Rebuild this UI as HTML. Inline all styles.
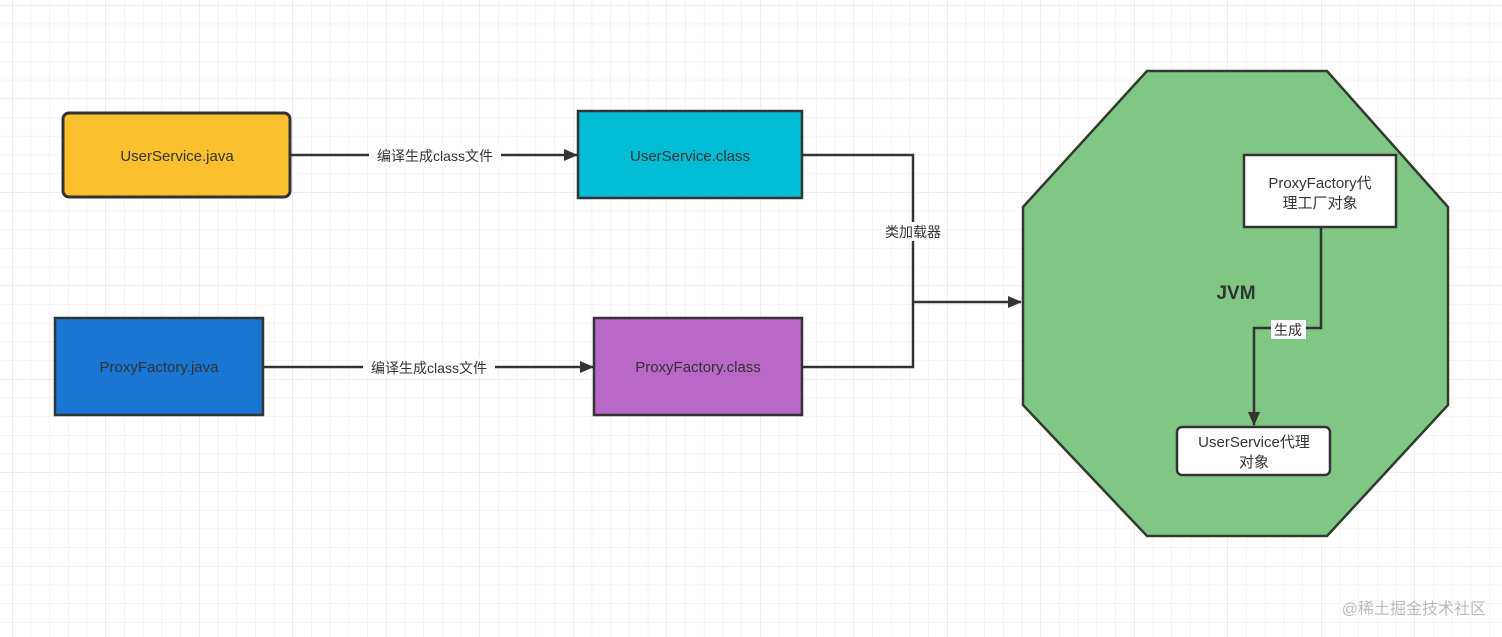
<!DOCTYPE html>
<html><head><meta charset="utf-8"><style>
html,body{margin:0;padding:0;background:#fff;}
svg{display:block;}
text{font-family:"Liberation Sans","Noto Sans CJK SC",sans-serif;}
</style></head><body>
<svg width="1502" height="637" viewBox="0 0 1502 637" xmlns="http://www.w3.org/2000/svg">
<defs>
<pattern id="g" x="12" y="5" width="18.7" height="18.7" patternUnits="userSpaceOnUse">
<path d="M0 0H18.7M0 0V18.7" stroke="#e8e8e8" stroke-width="1" fill="none"/>
</pattern>
<pattern id="G" x="12" y="5" width="93.5" height="93.5" patternUnits="userSpaceOnUse">
<path d="M0 0H93.5M0 0V93.5" stroke="#dcdcdc" stroke-width="1" fill="none"/>
</pattern>
<marker id="a" markerWidth="14" markerHeight="12" refX="13" refY="6" orient="auto" markerUnits="userSpaceOnUse">
<path d="M0 0L14 6L0 12Z" fill="#333"/>
</marker>
</defs>
<rect width="1502" height="637" fill="url(#g)"/>
<rect width="1502" height="637" fill="url(#G)"/>

<g stroke="#333" stroke-width="2.5" fill="none">
<line x1="291" y1="155" x2="577" y2="155" marker-end="url(#a)"/>
<line x1="264" y1="367" x2="593" y2="367" marker-end="url(#a)"/>
<polyline points="803,155 913,155 913,302"/>
<polyline points="803,367 913,367 913,302"/>
<line x1="913" y1="302" x2="1021" y2="302" marker-end="url(#a)"/>
</g>

<rect x="63" y="113" width="227" height="84" rx="6" fill="#fbc02d" stroke="#333" stroke-width="3"/>
<text x="177" y="161" font-size="15" text-anchor="middle" fill="#333">UserService.java</text>
<rect x="578" y="111" width="224" height="87" fill="#00bcd4" stroke="#333" stroke-width="2.5"/>
<text x="690" y="161" font-size="15" text-anchor="middle" fill="#333">UserService.class</text>
<rect x="55" y="318" width="208" height="97" fill="#1976d2" stroke="#333" stroke-width="2.5"/>
<text x="159" y="372" font-size="15" text-anchor="middle" fill="#333">ProxyFactory.java</text>
<rect x="594" y="318" width="208" height="97" fill="#ba68c8" stroke="#333" stroke-width="2.5"/>
<text x="698" y="372" font-size="15" text-anchor="middle" fill="#333">ProxyFactory.class</text>

<rect x="369" y="146" width="132" height="19" fill="#fff"/>
<text x="435" y="161" font-size="14" text-anchor="middle" fill="#333">编译生成class文件</text>
<rect x="363" y="358" width="132" height="19" fill="#fff"/>
<text x="429" y="373" font-size="14" text-anchor="middle" fill="#333">编译生成class文件</text>
<rect x="881" y="222" width="64" height="19" fill="#fff"/>
<text x="913" y="237" font-size="14" text-anchor="middle" fill="#333">类加载器</text>

<polygon points="1147,71 1327,71 1448,207 1448,405 1327,536 1147,536 1023,405 1023,207" fill="#81c784" stroke="#2e3b2e" stroke-width="2.5"/>
<text x="1236" y="299" font-size="19" font-weight="bold" text-anchor="middle" fill="#333">JVM</text>

<rect x="1244" y="155" width="152" height="72" fill="#fff" stroke="#333" stroke-width="2.5"/>
<text x="1320" y="188" font-size="15" text-anchor="middle" fill="#333">ProxyFactory代</text>
<text x="1320" y="208" font-size="15" text-anchor="middle" fill="#333">理工厂对象</text>

<polyline points="1321,228 1321,328 1254,328 1254,425" fill="none" stroke="#333" stroke-width="2.5" marker-end="url(#a)"/>
<rect x="1271" y="320" width="35" height="19" fill="#fff"/>
<text x="1288" y="335" font-size="14" text-anchor="middle" fill="#333">生成</text>

<rect x="1177" y="427" width="153" height="48" rx="5" fill="#fff" stroke="#333" stroke-width="2.5"/>
<text x="1254" y="447" font-size="15" text-anchor="middle" fill="#333">UserService代理</text>
<text x="1254" y="467" font-size="15" text-anchor="middle" fill="#333">对象</text>

<text x="1486" y="614" font-size="16" text-anchor="end" fill="#bbb">@稀土掘金技术社区</text>
</svg>
</body></html>
